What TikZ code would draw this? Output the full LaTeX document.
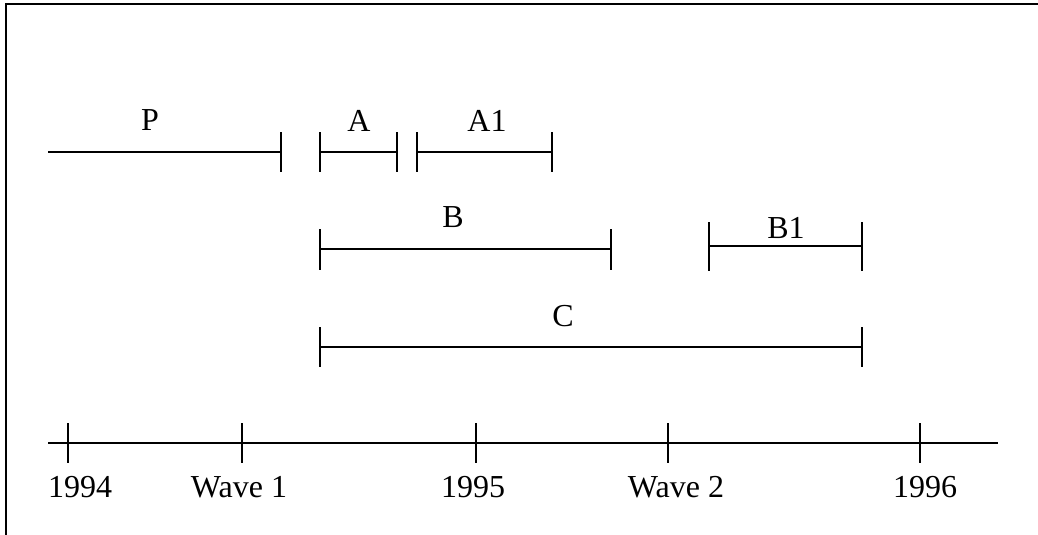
\documentclass[tikz,border=0pt]{standalone}
\usepackage{fontspec}
\setmainfont{Liberation Serif}
\begin{document}
\begin{tikzpicture}[x=1pt,y=-1pt,line width=2pt,
  lbl/.style={anchor=base,inner sep=0pt,font=\fontsize{32}{38}\selectfont},
  tk/.style={line width=2pt}]
\useasboundingbox (0,0) rectangle (1038,535);
% frame (only top and left edges are within the picture)
\coordinate (fbl) at (6,540);
\coordinate (ftl) at (6,4);
\coordinate (ftr) at (1045,4);
\draw[line width=2.5pt] (fbl) -- (ftl) -- (ftr);
% axis
\coordinate (ax0) at (48,443);
\coordinate (ax1) at (998,443);
\draw (ax0) -- (ax1);
\foreach \n/\x in {t94/68,tw1/242,t95/476,tw2/668,t96/920}{
  \coordinate (\n a) at (\x,423);
  \coordinate (\n b) at (\x,463);
  \draw (\n a) -- (\n b);
}
\node[lbl,anchor=base west] (l94) at (47,497) {1994};
\node[lbl] (lw1) at (239,497) {Wave 1};
\node[lbl] (l95) at (473,497) {1995};
\node[lbl] (lw2) at (676,497) {Wave 2};
\node[lbl] (l96) at (925,497) {1996};
% row 1
\coordinate (p0) at (48,152);
\coordinate (p1) at (281,152);
\draw (p0) -- (p1);
\draw (281,132) -- (281,172);
\node[lbl] (lp) at (150,130) {P};
\coordinate (a0) at (320,152);
\coordinate (a1) at (397,152);
\draw (a0) -- (a1);
\draw (320,132) -- (320,172) (397,132) -- (397,172);
\node[lbl] (la) at (359,131) {A};
\coordinate (b0) at (417,152);
\coordinate (b1) at (552,152);
\draw (b0) -- (b1);
\draw (417,132) -- (417,172) (552,132) -- (552,172);
\node[lbl] (la1) at (487,131) {A1};
% row 2
\coordinate (c0) at (320,249);
\coordinate (c1) at (611,249);
\draw (c0) -- (c1);
\draw (320,229) -- (320,270) (611,229) -- (611,270);
\node[lbl] (lb) at (453,227) {B};
\coordinate (d0) at (709,246);
\coordinate (d1) at (862,246);
\draw (d0) -- (d1);
\draw (709,222) -- (709,271) (862,222) -- (862,271);
\node[lbl] (lb1) at (786,238) {B1};
% row 3
\coordinate (e0) at (320,347);
\coordinate (e1) at (862,347);
\draw (e0) -- (e1);
\draw (320,327) -- (320,367) (862,327) -- (862,367);
\node[lbl] (lc) at (563,326) {C};
\end{tikzpicture}
\end{document}
